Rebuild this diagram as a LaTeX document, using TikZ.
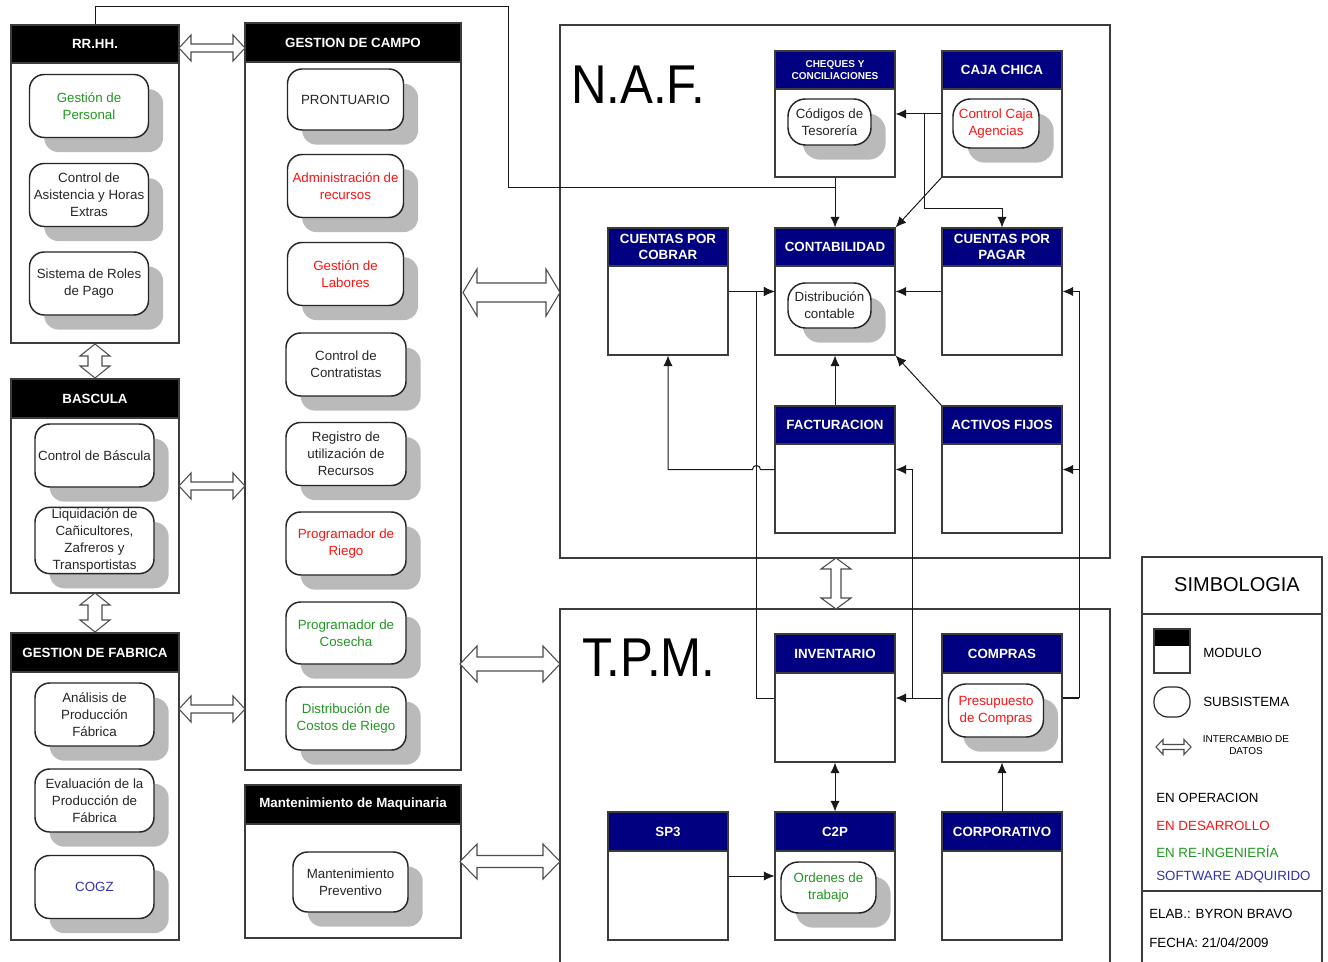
\documentclass[tikz,border=0pt]{standalone}
\usepackage{fontspec}
\usepackage{graphicx}
\setmainfont{Liberation Sans}
\usetikzlibrary{shadows,calc,arrows.meta}

\definecolor{navy}{RGB}{0,0,128}
\definecolor{opgreen}{RGB}{34,150,34}
\definecolor{devred}{RGB}{250,20,20}
\definecolor{swblue}{RGB}{50,50,175}
\definecolor{framegray}{RGB}{60,60,60}

\tikzset{
  modbody/.style={draw=framegray, line width=0.8pt, fill=white, inner sep=0pt},
  modhead/.style={draw=framegray, line width=0.8pt, text=white, inner sep=1pt,
    align=center, font=\bfseries\fontsize{10}{12.5}\selectfont},
  sub/.style={draw=black!85, line width=1.1pt, fill=white, rounded corners=11pt,
    align=center, inner sep=1pt, text=black!85, font=\fontsize{10}{12.75}\selectfont,
    drop shadow={shadow xshift=11pt, shadow yshift=-11pt, fill=black!27, opacity=1}},
  subA/.style={sub, minimum width=119*0.75pt, minimum height=63*0.75pt},
  subN/.style={sub, rounded corners=13pt},
  link/.style={draw=black!90, line width=0.75pt},
  arr/.style={link, -{Latex[length=8pt,width=7pt]}},
  arrboth/.style={link, {Latex[length=8pt,width=7pt]}-{Latex[length=8pt,width=7pt]}},
  xchg/.style={draw=black!70, fill=white, line width=0.8pt, line join=miter},
  % hollow two-way arrow: half length / head length / head half-width / shaft half-width
  pics/hollow/.style args={#1/#2/#3/#4}{code={
    \draw[xchg] (-#1,0) -- (-#1+#2,#3) -- (-#1+#2,#4) -- (#1-#2,#4) -- (#1-#2,#3)
      -- (#1,0) -- (#1-#2,-#3) -- (#1-#2,-#4) -- (-#1+#2,-#4) -- (-#1+#2,-#3) -- cycle;}},
  bigtitle/.style={font=\fontsize{41}{44}\selectfont, inner sep=0pt, anchor=base west},
  legtext/.style={anchor=west, inner sep=0pt, font=\fontsize{10}{12}\selectfont},
}

% module: name, left, top, width, height, header height, header options, label
\newcommand\modul[8]{%
  \node[modbody, minimum width=#4*0.75pt, minimum height=#5*0.75pt] (#1) at (#2+#4/2,#3+#5/2) {};
  \node[modhead, minimum width=#4*0.75pt, minimum height=#6*0.75pt, anchor=north, #7] (#1-h) at (#1.north) {#8};%
}

\begin{document}
\begin{tikzpicture}[x=0.75pt, y=-0.75pt]
\clip (0,0) rectangle (1328,962);
\fill[white] (0,0) rectangle (1328,962);

% ---------- system frames ----------
\node[draw=framegray, line width=0.8pt, inner sep=0pt, minimum width=550*0.75pt, minimum height=533*0.75pt] (naf) at (835,291.5) {};
\node[draw=framegray, line width=0.8pt, inner sep=0pt, minimum width=550*0.75pt, minimum height=381*0.75pt] (tpm) at (835,799.5) {};
\node[bigtitle] (naft) at (571,104) {\scalebox{0.9}[1]{N.A.F.}};
\node[bigtitle] (tpmt) at (582,676) {\scalebox{0.9}[1]{T.P.M.}};

% ---------- left and middle modules ----------
\modul{rrhh}{11}{25}{168}{318}{38}{fill=black}{RR.HH.}
\modul{basc}{11}{379}{168}{214}{39}{fill=black}{BASCULA}
\modul{fab}{11}{633}{168}{307}{39}{fill=black}{GESTION DE FABRICA}
\modul{campo}{245}{23}{216}{747}{39}{fill=black}{GESTION DE CAMPO}
\modul{mant}{245}{785}{216}{153}{39}{fill=black}{Mantenimiento de Maquinaria}

% RR.HH. subsystems
\node[subA, text=opgreen] (gper) at (89,106) {Gestión de\\Personal};
\node[subA] (asis) at (89,195) {Control de\\Asistencia y Horas\\Extras};
\node[subA] (roles) at (89,283.5) {Sistema de Roles\\de Pago};

% BASCULA subsystems
\node[subA] (cbas) at (94.5,455.5) {Control de Báscula};
\node[subA] (liq) at (94.5,540.5) {Liquidación de\\Cañicultores,\\Zafreros y\\Transportistas};

% GESTION DE FABRICA subsystems
\node[subA] (anal) at (94.5,714.5) {Análisis de\\Producción\\Fábrica};
\node[subA] (eval) at (94.5,800.5) {Evaluación de la\\Producción de\\Fábrica};
\node[subA, text=swblue] (cogz) at (94.5,887) {COGZ};

% GESTION DE CAMPO subsystems
\node[sub, minimum width=116*0.75pt, minimum height=61*0.75pt] (pront) at (345.5,99.5) {PRONTUARIO};
\node[sub, minimum width=116*0.75pt, minimum height=63*0.75pt, text=devred] (admr) at (345.5,186) {Administración de\\recursos};
\node[sub, minimum width=116*0.75pt, minimum height=63*0.75pt, text=devred] (glab) at (345.5,274) {Gestión de\\Labores};
\node[sub, minimum width=120*0.75pt, minimum height=63*0.75pt] (contr) at (346,364.5) {Control de\\Contratistas};
\node[sub, minimum width=120*0.75pt, minimum height=63*0.75pt] (regu) at (346,454) {Registro de\\utilización de\\Recursos};
\node[sub, minimum width=120*0.75pt, minimum height=63*0.75pt, text=devred] (priego) at (346,543.5) {Programador de\\Riego};
\node[sub, minimum width=120*0.75pt, minimum height=62*0.75pt, text=opgreen] (pcos) at (346,633) {Programador de\\Cosecha};
\node[sub, minimum width=120*0.75pt, minimum height=63*0.75pt, text=opgreen] (dcos) at (346,718.5) {Distribución de\\Costos de Riego};

% Mantenimiento subsystem
\node[sub, minimum width=115*0.75pt, minimum height=60*0.75pt] (mprev) at (350.5,882) {Mantenimiento\\Preventivo};

% ---------- junction points of the flows ----------
\coordinate (top) at (508,7);
\coordinate (j1) at (835,188);
\coordinate (j2) at (924,114);
\coordinate (j3) at (912,698);
\coordinate (j4) at (1079,698);

% ---------- N.A.F. modules ----------
\modul{cheq}{775}{51}{120}{126}{38}{fill=navy, font=\bfseries\fontsize{7.5}{9.5}\selectfont}{CHEQUES Y\\CONCILIACIONES}
\modul{caja}{942}{51}{120}{126}{38}{fill=navy}{CAJA CHICA}
\modul{cxc}{608}{228}{120}{127}{38}{fill=navy}{CUENTAS POR\\COBRAR}
\modul{contab}{775}{228}{120}{127}{38}{fill=navy}{CONTABILIDAD}
\modul{cxp}{942}{228}{120}{127}{38}{fill=navy}{CUENTAS POR\\PAGAR}
\modul{fact}{775}{406}{120}{127}{38}{fill=navy}{FACTURACION}
\modul{act}{942}{406}{120}{127}{38}{fill=navy}{ACTIVOS FIJOS}

\node[subN, minimum width=83*0.75pt, minimum height=46*0.75pt] (ctes) at (829.5,122) {Códigos de\\Tesorería};
\node[subN, minimum width=86*0.75pt, minimum height=49*0.75pt, text=devred] (ccaja) at (996,123.5) {Control Caja\\Agencias};
\node[subN, minimum width=83*0.75pt, minimum height=45*0.75pt] (dcont) at (829.5,305.5) {Distribución\\contable};

% ---------- T.P.M. modules ----------
\modul{inv}{775}{634}{120}{128}{39}{fill=navy}{INVENTARIO}
\modul{comp}{942}{634}{120}{128}{39}{fill=navy}{COMPRAS}
\modul{sp3}{608}{812}{120}{128}{39}{fill=navy}{SP3}
\modul{c2p}{775}{812}{120}{128}{39}{fill=navy}{C2P}
\modul{corp}{942}{812}{120}{128}{39}{fill=navy}{CORPORATIVO}

\node[subN, minimum width=95*0.75pt, minimum height=53*0.75pt, text=devred] (pcomp) at (996,710.5) {Presupuesto\\de Compras};
\node[subN, minimum width=95*0.75pt, minimum height=51*0.75pt, text=opgreen] (ordt) at (828.5,887.5) {Ordenes de\\trabajo};

% ---------- data flows ----------
\draw[link] (rrhh.north) |- (top) |- (j1);
\draw[arr] (cheq.south) -- (contab.north);
\draw[arr] (caja.west) -- (cheq.east);
\draw[arr] (j2) |- ($(cxp.north)+(0,-19)$) -- (cxp.north);
\draw[arr] (caja.south west) -- (contab.north east);
\draw[arr] (cxc.east) -- (contab.west);
\draw[arr] (cxp.west) -- (contab.east);
\draw[arr] (fact.north) -- (contab.south);
\draw[arr] (act.north west) -- (contab.south east);
\draw[arr] (fact.west) -- ++(-14,0) arc[start angle=0, end angle=180, radius=3pt] -| (cxc.south);
\draw[arr] (inv.west) -- ++(-18,0) |- (contab.west);
\draw[arr] (comp.west) -- (inv.east);
\draw[arr] (j3) |- (fact.east);
\draw[link, line width=1.2pt] (comp.east) -- (j4);
\draw[arr] (j4) |- (act.east);
\draw[arr] (j4) |- (cxp.east);
\draw[arrboth] (inv.south) -- (c2p.north);
\draw[arr] (corp.north) -- (comp.south);
\draw[arr] (sp3.east) -- (c2p.west);

% ---------- data exchange between systems ----------
\pic at (212,48) {hollow=33/12/13/4};
\pic at (212,486) {hollow=33/12/13/4};
\pic at (212,709) {hollow=33/12/13/4};
\pic[rotate=90] at (95,361) {hollow=17/12/15/7};
\pic[rotate=90] at (95,612.5) {hollow=19.5/12/15/7};
\pic at (511.5,292.5) {hollow=48.5/14/23.5/9.5};
\pic at (510,664) {hollow=50/17/18/7};
\pic at (510,861.5) {hollow=50/17/17.5/6};
\pic[rotate=90] at (836,583.5) {hollow=25.5/11/15/5};

% ---------- legend ----------
\draw[draw=framegray, line width=0.8pt, fill=white] (1142,557) rectangle (1322,990);
\draw[draw=framegray, line width=0.8pt] (1142,614) -- (1322,614);
\draw[draw=framegray, line width=0.8pt] (1142,891) -- (1322,891);
\node[font=\fontsize{15}{18}\selectfont, inner sep=0pt] (simb) at (1237,585) {SIMBOLOGIA};
\fill[black] (1154,629) rectangle (1190,646);
\draw[draw=framegray, line width=0.8pt] (1154,629) rectangle (1190,673);
\node[legtext] (lmod) at (1203,653) {MODULO};
\draw[draw=black!85, line width=0.9pt, rounded corners=10.5pt] (1154,687) rectangle (1190,717);
\node[legtext] (lsub) at (1203,702) {SUBSISTEMA};
\pic at (1173.5,747) {hollow=17.5/7/7.5/2.5};
\node[inner sep=0pt, align=center, font=\fontsize{7.5}{9}\selectfont] (lint) at (1246,745) {INTERCAMBIO DE\\DATOS};
\node[legtext] (lop) at (1156,798) {EN OPERACION};
\node[legtext, text=devred] (ldes) at (1156,826) {EN DESARROLLO};
\node[legtext, text=opgreen] (lrei) at (1156,852) {EN RE-INGENIERÍA};
\node[legtext, text=swblue] (lsw) at (1156,877) {SOFTWARE ADQUIRIDO};
\node[legtext] (lelab) at (1149,914) {ELAB.: BYRON BRAVO};
\node[legtext] (lfecha) at (1149,943) {FECHA: 21/04/2009};
\end{tikzpicture}
\end{document}
